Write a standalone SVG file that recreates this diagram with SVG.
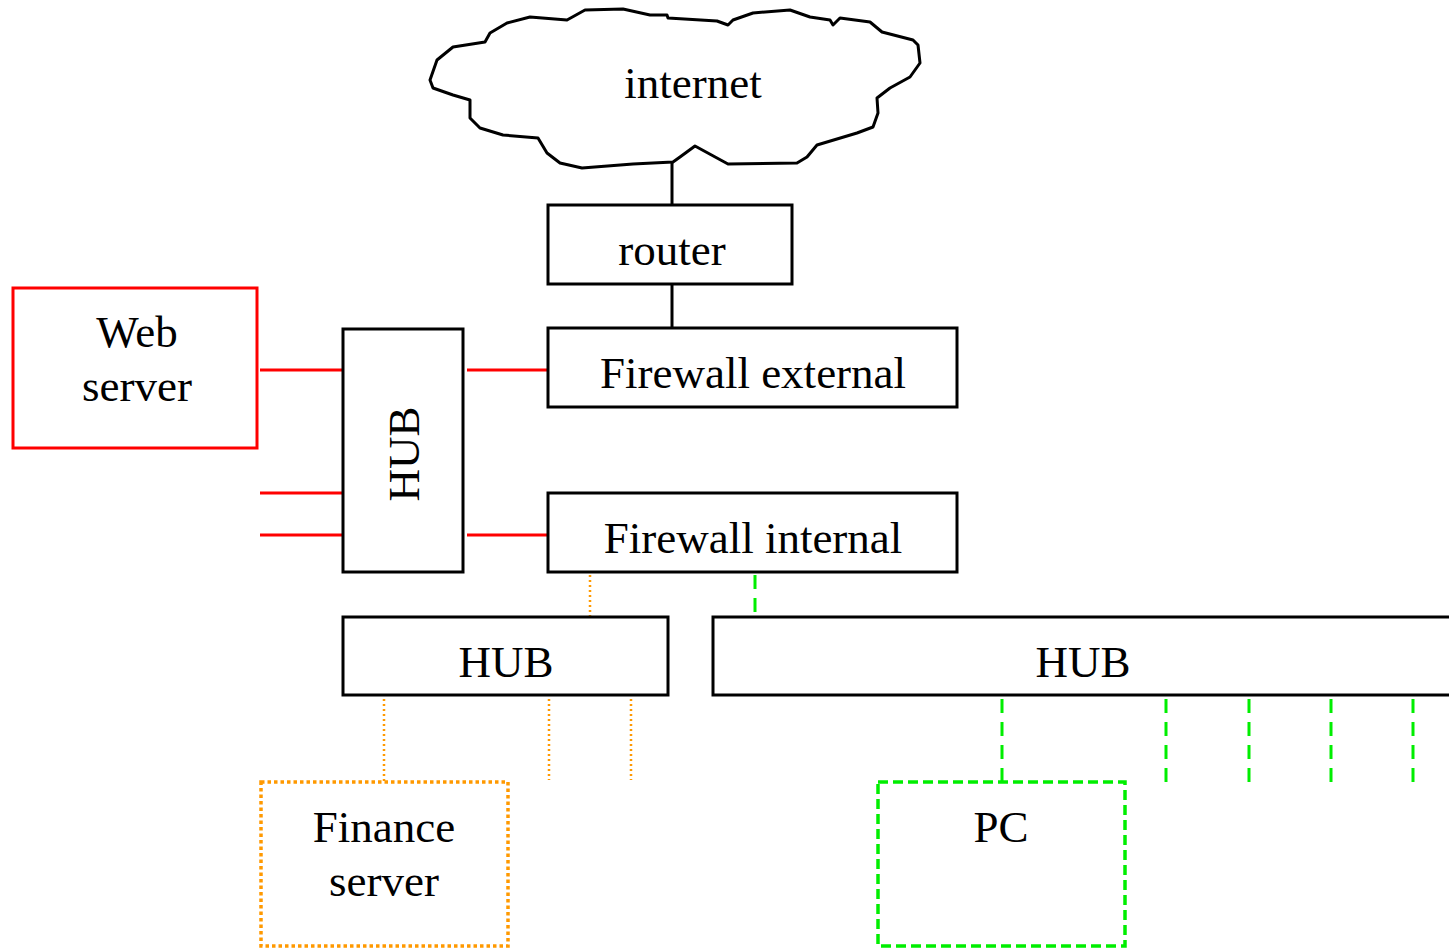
<svg xmlns="http://www.w3.org/2000/svg" width="1449" height="949" viewBox="0 0 1449 949">
<style>
text{font-family:"Liberation Serif","Times New Roman",serif;font-size:45px;fill:#000;text-anchor:middle}
.box{fill:#fff;stroke:#000;stroke-width:3}
.red{stroke:#ff0000;stroke-width:3;fill:none}
.blk{stroke:#000;stroke-width:3;fill:none}
.org{stroke:#ff9900;stroke-width:2.5;fill:none;stroke-dasharray:2 3}
.grn{stroke:#00ee00;stroke-width:3;fill:none;stroke-dasharray:14 9}
</style>
<rect width="1449" height="949" fill="#fff"/>
<g id="connectors">
<line class="blk" x1="672" y1="163" x2="672" y2="205"/>
<line class="blk" x1="672" y1="284" x2="672" y2="328"/>
<line class="red" x1="260" y1="370" x2="343" y2="370"/>
<line class="red" x1="467" y1="370" x2="548" y2="370"/>
<line class="red" x1="260" y1="493" x2="343" y2="493"/>
<line class="red" x1="260" y1="535" x2="343" y2="535"/>
<line class="red" x1="467" y1="535" x2="548" y2="535"/>
<line class="org" x1="590" y1="575" x2="590" y2="616"/>
<line class="grn" x1="755" y1="575" x2="755" y2="614"/>
<line class="org" x1="384" y1="699" x2="384" y2="782"/>
<line class="org" x1="549" y1="699" x2="549" y2="780"/>
<line class="org" x1="631" y1="699" x2="631" y2="780"/>
<line class="grn" x1="1002" y1="699" x2="1002" y2="782"/>
<line class="grn" x1="1166" y1="699" x2="1166" y2="783"/>
<line class="grn" x1="1249" y1="699" x2="1249" y2="783"/>
<line class="grn" x1="1331" y1="699" x2="1331" y2="783"/>
<line class="grn" x1="1413" y1="699" x2="1413" y2="783"/>
</g>
<g id="internet">
<path d="M585,10 L623,9 L650,15 L667,15 L668,18 L717,21 L728,25 L733,20 L753,13 L790,10 L810,17 L830,20 L833,25 L840,18 L870,22 L882,32 L913,40 L918,45 L920,63 L910,77 L890,88 L877,98 L878,113 L873,127 L857,133 L817,145 L807,157 L797,163 L728,164 L695,146 L680,157 L673,162 L633,164 L582,168 L560,163 L547,153 L538,138 L503,135 L480,128 L470,118 L470,100 L453,95 L433,88 L430,80 L437,60 L453,47 L485,42 L490,33 L507,23 L530,17 L567,20 Z" fill="#fff" stroke="#000" stroke-width="3" stroke-linejoin="round"/>
<text x="693" y="98">internet</text>
</g>
<g id="router">
<rect class="box" x="548" y="205" width="244" height="79"/>
<text x="672" y="265">router</text>
</g>
<g id="fw-external">
<rect class="box" x="548" y="328" width="409" height="79"/>
<text x="753" y="388">Firewall external</text>
</g>
<g id="web-server">
<rect x="13" y="288" width="244" height="160" fill="#fff" stroke="#ff0000" stroke-width="3"/>
<text x="137" y="347">Web</text>
<text x="137" y="401">server</text>
</g>
<g id="hub-dmz">
<rect class="box" x="343" y="329" width="120" height="243"/>
<text transform="translate(419,454) rotate(-90)" x="0" y="0">HUB</text>
</g>
<g id="fw-internal">
<rect class="box" x="548" y="493" width="409" height="79"/>
<text x="753" y="553">Firewall internal</text>
</g>
<g id="hub-finance">
<rect class="box" x="343" y="617" width="325" height="78"/>
<text x="506" y="677">HUB</text>
</g>
<g id="hub-pc">
<rect class="box" x="713" y="617" width="760" height="78"/>
<text x="1083" y="677">HUB</text>
</g>
<g id="finance-server">
<rect x="261" y="782" width="247" height="164" fill="#fff" stroke="#ff9900" stroke-width="3.5" stroke-dasharray="3.5 3"/>
<text x="384" y="842">Finance</text>
<text x="384" y="896">server</text>
</g>
<g id="pc">
<rect x="878" y="782" width="247" height="164" fill="#fff" stroke="#00ee00" stroke-width="3.5" stroke-dasharray="10 5"/>
<text x="1001" y="842">PC</text>
</g>
</svg>
